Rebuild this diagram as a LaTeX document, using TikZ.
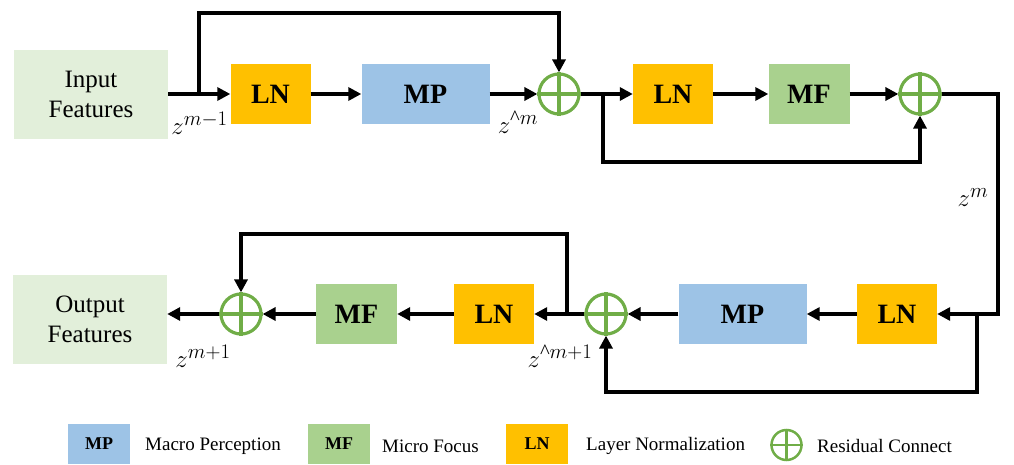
\documentclass[tikz,border=0pt]{standalone}
\usepackage{fontspec}
\setmainfont{Liberation Serif}
\usetikzlibrary{arrows.meta}
\definecolor{ioC}{HTML}{E2EFDA}
\definecolor{lnC}{HTML}{FFC000}
\definecolor{mpC}{HTML}{9DC3E6}
\definecolor{mfC}{HTML}{A9D18E}
\definecolor{grC}{HTML}{70AD47}
\tikzset{
  blk/.style={inner sep=0pt, minimum height=60pt, font=\fontsize{28}{30}\selectfont\bfseries},
  lnbox/.style={blk, fill=lnC, minimum width=80pt},
  mpbox/.style={blk, fill=mpC, minimum width=128pt},
  mfbox/.style={blk, fill=mfC, minimum width=81pt},
  iobox/.style={fill=ioC, inner sep=0pt, minimum width=154pt, minimum height=89pt, align=center, font=\fontsize{25}{30}\selectfont},
  sumnode/.style={circle, draw=grC, line width=3.2pt, minimum size=40pt, inner sep=0pt},
  conn/.style={line width=3.2pt, -{Triangle[length=13pt,width=13pt]}},
  zlab/.style={font=\fontsize{24.88}{28}\selectfont, inner sep=0pt},
  legbox/.style={inner sep=0pt, minimum width=62pt, minimum height=40pt, font=\fontsize{18}{20}\selectfont\bfseries},
  legtxt/.style={anchor=west, inner sep=0pt, font=\fontsize{19}{22}\selectfont},
}
\newcommand{\crossit}[1]{\draw[grC, line width=3.2pt] (#1.north) -- (#1.south) (#1.west) -- (#1.east);}
\newcommand{\crt}{\mathrm{\char"5E}}
\begin{document}
\begin{tikzpicture}[x=1pt,y=-1pt]
\useasboundingbox (0,0) rectangle (1014,465);
% top row
\node[iobox] (in) at (91,94.5) {Input\\Features};
\node[lnbox] (ln1) at (270.5,94) {LN};
\node[mpbox] (mp1) at (425.5,94) {MP};
\node[sumnode] (c1) at (559,94) {};
\node[lnbox] (ln2) at (673,94) {LN};
\node[mfbox] (mf1) at (809,94) {MF};
\node[sumnode] (c2) at (920,94) {};
% bottom row
\node[lnbox] (ln3) at (897,314) {LN};
\node[mpbox] (mp2) at (742.5,314) {MP};
\node[sumnode] (c3) at (606,314) {};
\node[lnbox] (ln4) at (494,314) {LN};
\node[mfbox] (mf2) at (356.5,314) {MF};
\node[sumnode] (c4) at (241,314) {};
\node[iobox] (out) at (90,319.5) {Output\\Features};
\crossit{c1}\crossit{c2}\crossit{c3}\crossit{c4}
% branch coordinates
\coordinate (b1) at (199,94);
\coordinate (t1) at (199,13);
\coordinate (b2) at (603,94);
\coordinate (t2) at (603,162);
\coordinate (r1) at (998,94);
\coordinate (b3) at (977,314);
\coordinate (t3) at (977,392);
\coordinate (b4) at (567,314);
\coordinate (t4) at (567,234);
% connectors top
\draw[conn] (in.east |- b1) -- (ln1.west);
\draw[conn] (b1) -- (t1) -| (c1.north);
\draw[conn] (ln1) -- (mp1);
\draw[conn] (mp1) -- (c1);
\draw[conn] (c1) -- (ln2);
\draw[conn] (b2) -- (t2) -| (c2.south);
\draw[conn] (ln2) -- (mf1);
\draw[conn] (mf1) -- (c2);
\draw[conn] (c2.east) -- (r1) |- (ln3.east);
% connectors bottom
\draw[conn] (b3) -- (t3) -| (c3.south);
\draw[conn] (ln3) -- (mp2);
\draw[conn] (mp2) -- (c3);
\draw[conn] (c3) -- (ln4);
\draw[conn] (b4) -- (t4) -| (c4.north);
\draw[conn] (ln4) -- (mf2);
\draw[conn] (mf2) -- (c4);
\draw[conn] (c4) -- (out.east |- c4);
% labels
\node[zlab] (l1) at (199.5,123) {$z^{m-1}$};
\node[zlab] (l2) at (518,122) {$z^{\crt m}$};
\node[zlab] (l3) at (973,198) {$z^{m}$};
\node[zlab] (l4) at (560,356) {$z^{\crt m+1}$};
\node[zlab] (l5) at (203,356) {$z^{m+1}$};
% legend
\node[legbox, fill=mpC] (kmp) at (99,444) {MP};
\node[legtxt] (tmp) at (145,446) {Macro Perception};
\node[legbox, fill=mfC] (kmf) at (339,444) {MF};
\node[legtxt] (tmf) at (382,446) {Micro Focus};
\node[legbox, fill=lnC] (kln) at (537,444) {LN};
\node[legtxt] (tln) at (586,446) {Layer Normalization};
\node[circle, draw=grC, line width=2.5pt, minimum size=30pt, inner sep=0pt] (kc) at (786.5,445) {};
\draw[grC, line width=2.5pt] (kc.north) -- (kc.south) (kc.west) -- (kc.east);
\node[legtxt] (tc) at (817,446) {Residual Connect};
\end{tikzpicture}
\end{document}
